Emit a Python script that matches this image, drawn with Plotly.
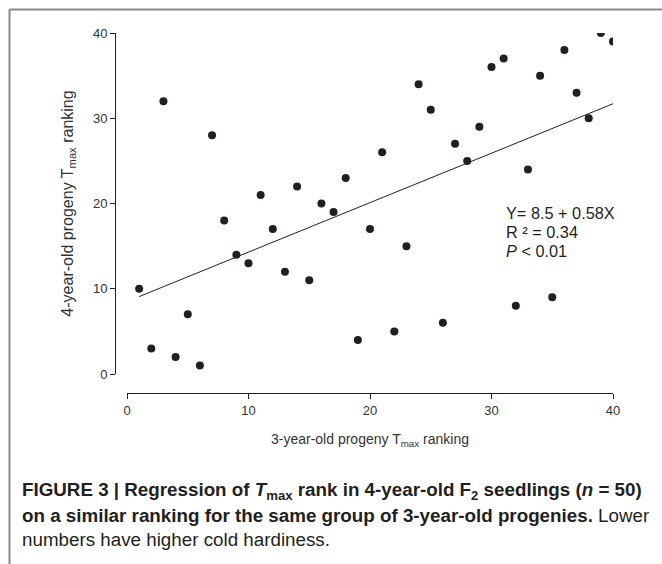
import plotly.graph_objects as go

# Data: 3-year-old rank (x) vs 4-year-old rank (y)
x_rank_3yr = list(range(1, 41))
y_rank_4yr = [10, 3, 32, 2, 7, 1, 28, 18, 14, 13,
              21, 17, 12, 22, 11, 20, 19, 23, 4, 17,
              26, 5, 15, 34, 31, 6, 27, 25, 29, 36,
              37, 8, 24, 35, 9, 38, 33, 30, 40, 39]
fit_intercept = 8.5
fit_slope = 0.58
fit_x = [1, 40]
fit_y = [fit_intercept + fit_slope * v for v in fit_x]
tick_vals = [0, 10, 20, 30, 40]
tick_text = ["0", "10", "20", "30", "40"]
stats_lines = ["Y= 8.5 + 0.58X", "R \u00b2 = 0.34", "<i>P</i> < 0.01"]

W, H = 662, 564
NARROW = "Liberation Sans Narrow, Arial Narrow, Liberation Sans, Arial, sans-serif"
MAIN_FONT = "Liberation Sans, Arial, Helvetica, sans-serif"

fig = go.Figure()
fig.add_trace(go.Scatter(
    x=fit_x, y=fit_y, mode="lines",
    line=dict(color="#231f20", width=1), hoverinfo="skip", showlegend=False))
fig.add_trace(go.Scatter(
    x=x_rank_3yr, y=y_rank_4yr, mode="markers",
    marker=dict(color="#231f20", size=8, line=dict(width=0)), showlegend=False))

fig.update_layout(
    width=W, height=H,
    margin=dict(l=0, r=0, t=0, b=0),
    paper_bgcolor="white", plot_bgcolor="white",
    font=dict(family=MAIN_FONT, color="#231f20"),
    xaxis=dict(
        domain=[127 / W, 613 / W], range=[0, 40],
        anchor="free", position=1 - 393 / H,
        showgrid=False, zeroline=False,
        showline=True, linecolor="#231f20", linewidth=1,
        ticks="outside", ticklen=5, tickwidth=1, tickcolor="#231f20",
        tickvals=tick_vals, ticktext=tick_text,
        tickfont=dict(family=NARROW, size=13, color="#333333"),
        title=dict(text="3-year-old progeny T<sub>max</sub> ranking",
                   font=dict(family=MAIN_FONT, size=14, color="#333333"),
                   standoff=17),
        automargin=False,
    ),
    yaxis=dict(
        domain=[1 - 374 / H, 1 - 33 / H], range=[0, 40],
        anchor="free", position=115 / W,
        showgrid=False, zeroline=False,
        showline=True, linecolor="#231f20", linewidth=1,
        ticks="outside", ticklen=5, tickwidth=1, tickcolor="#231f20",
        tickvals=tick_vals, ticktext=tick_text,
        tickfont=dict(family=NARROW, size=13, color="#333333"),
        title=dict(text="4-year-old progeny T<sub>max</sub> ranking",
                   font=dict(family=MAIN_FONT, size=16, color="#333333"),
                   standoff=14),
        automargin=False,
    ),
)

# regression statistics (one annotation per line for tight spacing)
stats_px_y = [213.3, 232.3, 251.3]
for t, py in zip(stats_lines, stats_px_y):
    fig.add_annotation(
        x=504 / W, y=1 - py / H, xref="paper", yref="paper",
        xanchor="left", yanchor="middle", text=t, align="left",
        showarrow=False,
        font=dict(family=MAIN_FONT, size=16.3, color="#231f20"))

# caption
cap_lines = [
    "<b>FIGURE 3 | Regression of <i>T</i><sub>max</sub> rank in 4-year-old F<sub>2</sub> seedlings (<i>n</i> = 50)</b>",
    "<b>on a similar ranking for the same group of 3-year-old progenies.</b> Lower",
    "numbers have higher cold hardiness.",
]
cap_y = [491, 515, 539]
for t, yy in zip(cap_lines, cap_y):
    fig.add_annotation(
        x=20 / W, y=1 - yy / H, xref="paper", yref="paper",
        xanchor="left", yanchor="middle", text=t, showarrow=False,
        align="left",
        font=dict(family=NARROW, size=18.8, color="#231f20"))

# frame
fig.add_shape(type="line", xref="paper", yref="paper",
              x0=9.5 / W, x1=1, y0=1 - 9.5 / H, y1=1 - 9.5 / H,
              line=dict(color="#8a8a8a", width=2))
fig.add_shape(type="line", xref="paper", yref="paper",
              x0=9.5 / W, x1=9.5 / W, y0=0, y1=1 - 9.5 / H,
              line=dict(color="#8a8a8a", width=2))

fig.write_html("out.html")
